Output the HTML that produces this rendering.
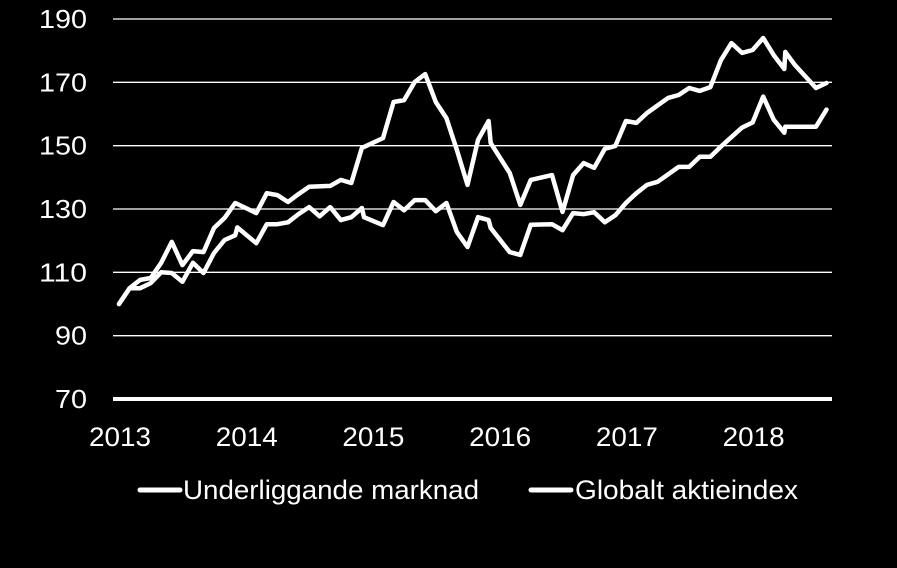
<!DOCTYPE html>
<html><head><meta charset="utf-8"><style>
html,body{margin:0;padding:0;background:#000;}
svg{display:block;font-family:"Liberation Sans",sans-serif;}
</style></head><body>
<svg id="chart" width="897" height="568" viewBox="0 0 897 568" xmlns="http://www.w3.org/2000/svg">
<rect width="897" height="568" fill="#000"/>
<g id="grid"></g><g id="yt"></g><g id="xt"></g><g id="lines"></g>
<g>
<line x1="140" y1="490" x2="180" y2="490" stroke="#fff" stroke-width="5" stroke-linecap="round"/>
<text x="183" y="499" fill="#fff" font-size="27" textLength="296" lengthAdjust="spacingAndGlyphs">Underliggande marknad</text>
<line x1="531" y1="490" x2="571" y2="490" stroke="#fff" stroke-width="5" stroke-linecap="round"/>
<text x="575" y="499" fill="#fff" font-size="27" textLength="223" lengthAdjust="spacingAndGlyphs">Globalt aktieindex</text>
</g>
</svg>
<script>
const yTicks=[70,90,110,130,150,170,190];
const xYears=["2013","2014","2015","2016","2017","2018"];
const monthsA=[0,1,2,3,4,5,6,7,8,9,10,11,12,13,14,15,16,17,18,20,21,22,23,25,26,27,28,29,30,31,32,33,34,35,35.2,37,38,39,41,42,43,44,45,46,47,48,49,50,52,53,54,55,56,57,58,59,60,61,62,63,63.1,64,66,67];
const valuesA=[100,105,107.6,108.2,113,119.6,112.3,116.7,116.4,124,127.2,131.9,130.3,128.7,135,134.4,132.2,134.7,137,137.3,139.2,138.2,149.3,152.4,163.8,164.4,170.1,172.6,163.8,158.7,148.6,137.6,151.8,157.8,150.8,141.4,131.3,139.2,140.7,129.1,140.7,144.5,143,149,149.9,157.8,157.2,160.3,165.1,166,168.2,167.3,168.5,177,182.4,179.3,180.2,184,178.6,174.2,179.6,175.5,168.2,169.8];
const monthsB=[0,1,2,3,4,5,6,7,8,9,10,11,11.2,13,14,15,16,17,18,19,20,21,22,23,23.2,25,26,27,28,29,30,31,32,33,34,35,35.2,37,38,39,41,42,43,44,45,46,47,48,49,50,51,53,54,55,56,57,59,60,61,62,63,63.1,66,67];
const valuesB=[100,105,105,106.6,110,109.8,107,113,109.8,116.1,120.2,121.7,124.2,119.2,125.2,125.2,125.8,128.4,130.6,127.7,130.6,126.5,127.4,130.3,127.4,124.9,132.2,129.6,132.8,132.8,129.3,131.9,122.7,118,127.4,126.5,124,116.4,115.5,125,125.2,123.3,128.7,128.4,129,125.8,128,131.9,135,137.6,138.6,143.3,143.3,146.5,146.5,149.7,155.7,157.3,165.5,158.2,154.1,156,156,161.4];
const NS="http://www.w3.org/2000/svg";
const y=v=>399-(v-70)*(380/120);
const x=m=>119+m*10.56;
const grid=document.getElementById('grid'),yt=document.getElementById('yt'),xt=document.getElementById('xt'),lines=document.getElementById('lines');
yTicks.forEach(t=>{
  const l=document.createElementNS(NS,'line');
  l.setAttribute('x1',113);l.setAttribute('x2',832);l.setAttribute('y1',y(t));l.setAttribute('y2',y(t));
  l.setAttribute('stroke','#fff');l.setAttribute('stroke-width',t===70?4:1.3);
  
  
  grid.appendChild(l);
  const tx=document.createElementNS(NS,'text');
  tx.setAttribute('x',87);tx.setAttribute('y',y(t)+9);tx.setAttribute('text-anchor','end');
  tx.setAttribute('fill','#fff');tx.setAttribute('font-size','26');
  tx.setAttribute('textLength',String(t).length*16);tx.setAttribute('lengthAdjust','spacingAndGlyphs');
  tx.textContent=t;
  
  
  yt.appendChild(tx);
});
xYears.forEach((s,i)=>{
  const tx=document.createElementNS(NS,'text');
  tx.setAttribute('x',x(i*12)+1);tx.setAttribute('y',446);tx.setAttribute('text-anchor','middle');
  tx.setAttribute('fill','#fff');tx.setAttribute('font-size','27');
  tx.setAttribute('textLength',62);tx.setAttribute('lengthAdjust','spacingAndGlyphs');
  tx.textContent=s;
  
  
  xt.appendChild(tx);
});
function draw(ms,vs,name){
  const p=document.createElementNS(NS,'polyline');
  p.setAttribute('points',ms.map((m,i)=>x(m).toFixed(1)+','+y(vs[i]).toFixed(1)).join(' '));
  p.setAttribute('fill','none');p.setAttribute('stroke','#fff');p.setAttribute('stroke-width','4.5');
  p.setAttribute('stroke-linejoin','round');p.setAttribute('stroke-linecap','round');
  
  
  lines.appendChild(p);
}
draw(monthsB,valuesB,'series-globalt-aktieindex');
draw(monthsA,valuesA,'series-underliggande-marknad');
</script>
</body></html>
